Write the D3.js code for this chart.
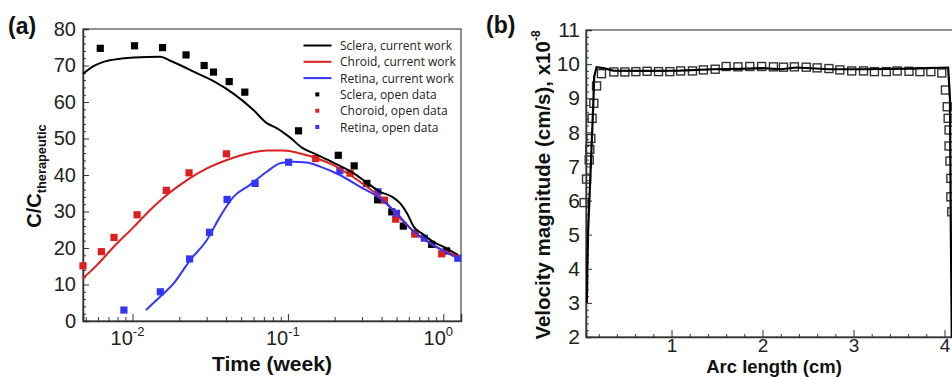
<!DOCTYPE html>
<html><head><meta charset="utf-8">
<script src="https://cdn.jsdelivr.net/npm/d3@7"></script>
<style>
body{margin:0;background:#fff;}
svg{display:block;font-family:"Liberation Sans",Arial,sans-serif;}
</style></head><body>
<svg id="c" width="952" height="377"></svg>
<script>
// ---------- Panel (a) data ----------
const scleraLineT = [0.0048,0.0056,0.0065,0.0085,0.0102,0.0151,0.0175,0.0205,0.0247,0.0332,0.0446,0.06,0.0731,0.0852,0.103,0.123,0.153,0.196,0.264,0.322,0.392,0.466,0.529,0.584,0.646,0.727,0.862,1.05,1.24];
const scleraLineV = [67.7,69.8,71.0,71.9,72.2,72.4,71.3,70.0,68.3,65.7,62.3,57.8,54.2,52.8,50.3,47.5,45.6,43.4,40.5,37.9,35.4,34.1,32.2,29.5,25.8,24.0,21.7,19.9,18.1];
const choroidLineT = [0.0048,0.0059,0.0076,0.0102,0.013,0.0166,0.0224,0.0301,0.0404,0.0544,0.0731,0.0936,0.12,0.153,0.196,0.251,0.322,0.411,0.529,0.676,0.862,1.24];
const choroidLineV = [11.7,15.3,20.4,25.8,30.4,34.5,38.6,41.8,44.1,45.8,46.7,46.7,45.9,44.6,42.7,40.0,36.8,33.2,28.1,23.8,20.8,17.7];
const retinaLineT = [0.0122,0.0151,0.0184,0.0235,0.0301,0.0366,0.0446,0.057,0.0731,0.0892,0.108,0.132,0.161,0.216,0.29,0.392,0.5,0.646,0.862,1.24];
const retinaLineV = [3.0,6.7,10.3,16.7,22.2,28.6,34.0,37.3,40.9,43.2,43.6,43.4,42.3,40.0,36.8,33.6,29.5,24.5,20.8,17.2];

const scleraPtsT = [0.0062,0.0103,0.0156,0.0221,0.0289,0.0332,0.0419,0.0528,0.117,0.211,0.267,0.322,0.378,0.466,0.553,0.658,0.842,1.05];
const scleraPtsV = [74.7,75.4,74.9,72.9,70.0,68.2,65.6,62.7,52.1,45.4,42.5,37.7,33.2,29.9,26.0,24.0,21.0,19.2];
const choroidPtsT = [0.0048,0.0063,0.0076,0.0107,0.0165,0.0231,0.0402,0.151,0.251,0.418,0.494,0.658,0.977];
const choroidPtsV = [15.1,19.0,22.9,29.1,35.8,40.6,45.8,44.5,40.5,33.1,27.9,23.8,18.4];
const retinaPtsT = [0.0088,0.0151,0.0233,0.0313,0.0406,0.0615,0.101,0.216,0.38,0.50,0.755,1.24];
const retinaPtsV = [3.0,8.0,17.0,24.3,33.3,37.7,43.5,41.2,35.4,29.5,22.7,17.2];

const yTicksA = [0,10,20,30,40,50,60,70,80];
const xTicksA = [0.01,0.1,1];
const xTickExpA = ["-2","-1","0"];
const legendLabels = ["Sclera, current work","Chroid, current work","Retina, current work","Sclera, open data","Choroid, open data","Retina, open data"];

// ---------- Panel (b) data ----------
const arcLine = [0.07,0.075,0.083,0.102,0.12,0.139,0.15,0.176,0.25,0.36,0.7,1.09,1.46,1.75,2.0,2.2,2.37,2.74,3.1,3.65,4.04,4.06,4.07,4.08];
const velLine = [3.0,4.0,5.1,6.3,7.5,8.75,9.63,9.91,9.88,9.81,9.80,9.81,9.85,9.86,9.88,9.85,9.90,9.85,9.85,9.87,9.90,9.0,5.0,2.0];
const arcPts = [0.04,0.066,0.095,0.102,0.113,0.127,0.146,0.176,0.23,0.366,0.487,0.608,0.732,0.857,0.981,1.10,1.23,1.35,1.48,1.60,1.73,1.86,1.99,2.12,2.23,2.35,2.48,2.60,2.73,2.85,2.98,3.11,3.23,3.36,3.48,3.61,3.73,3.85,3.97,4.01,4.03,4.04,4.05,4.05,4.06,4.07,4.07,4.08];
const velPts = [5.94,6.63,7.19,7.50,7.82,8.41,8.85,9.36,9.72,9.77,9.77,9.78,9.79,9.78,9.78,9.80,9.80,9.83,9.85,9.93,9.92,9.93,9.93,9.92,9.91,9.92,9.91,9.89,9.87,9.83,9.80,9.80,9.78,9.78,9.80,9.79,9.78,9.78,9.74,9.24,8.75,8.41,8.07,7.60,7.16,6.65,6.11,5.67];
const yTicksB = [2,3,4,5,6,7,8,9,10,11];
const xTicksB = [1,2,3,4];

const colors = {sclera:"#000000", choroid:"#dd1f1f", retina:"#3535f5"};
const svg = d3.select("#c");
const axisCol = "#333";

// ================= Panel (a) =================
const xA = d3.scaleLog().domain([0.0048,1.3]).range([83,461]);
const yA = d3.scaleLinear().domain([0,80]).range([321,29]);
const gA = svg.append("g");

gA.append("rect").attr("x",xA.range()[0]).attr("y",yA.range()[1])
  .attr("width",xA.range()[1]-xA.range()[0]).attr("height",yA.range()[0]-yA.range()[1])
  .attr("fill","none").attr("stroke","#555").attr("stroke-width",1.3);

const yMinorA = d3.range(0,81,2).filter(v=>v%10!==0);
gA.append("g").attr("transform",`translate(${xA.range()[0]},0)`)
  .call(d3.axisLeft(yA).tickValues(yMinorA).tickSize(-3).tickFormat(""))
  .call(g=>g.select(".domain").remove())
  .selectAll("line").attr("stroke",axisCol);
const yAxA = gA.append("g").attr("transform",`translate(${xA.range()[0]},0)`)
  .call(d3.axisLeft(yA).tickValues(yTicksA).tickSize(-6).tickPadding(7).tickFormat(d3.format("d")));
yAxA.select(".domain").attr("stroke",axisCol).attr("stroke-width",1.5);
yAxA.selectAll("line").attr("stroke",axisCol);
yAxA.selectAll("text").attr("font-size",20).attr("fill","#222").attr("font-family","Liberation Sans, Arial");

const xMinorA = [];
[0.001,0.01,0.1,1].forEach(d=>{for(let k=2;k<=9;k++){const v=d*k; if(v>=0.0048 && v<=1.3) xMinorA.push(v);}});
gA.append("g").attr("transform",`translate(0,${yA.range()[0]})`)
  .call(d3.axisBottom(xA).tickValues(xMinorA).tickSize(-4).tickFormat(""))
  .call(g=>g.select(".domain").remove())
  .selectAll("line").attr("stroke",axisCol);
const xAxA = gA.append("g").attr("transform",`translate(0,${yA.range()[0]})`)
  .call(d3.axisBottom(xA).tickValues(xTicksA).tickSize(-7).tickFormat(""));
xAxA.select(".domain").attr("stroke",axisCol).attr("stroke-width",1.5);
xAxA.selectAll("line").attr("stroke",axisCol);
xTicksA.forEach((v,i)=>{
  const t = gA.append("text").attr("x",xA(v)-5).attr("y",345)
    .attr("text-anchor","middle").attr("font-size",20).attr("fill","#222");
  t.append("tspan").text("10");
  t.append("tspan").attr("font-size",13).attr("dy",-9).text(xTickExpA[i]);
});

gA.append("text").attr("x",272).attr("y",371).attr("text-anchor","middle")
  .attr("font-size",21).attr("font-weight","bold").attr("fill","#111").text("Time (week)");
const ylab = gA.append("text").attr("transform","translate(41,176) rotate(-90)")
  .attr("text-anchor","middle").attr("font-weight","bold").attr("fill","#111");
ylab.append("tspan").attr("font-size",20).text("C/C");
ylab.append("tspan").attr("font-size",12.8).attr("dy",5).text("therapeutic");
gA.append("text").attr("x",8).attr("y",34).attr("font-size",23).attr("font-weight","bold").attr("fill","#111").text("(a)");

const lineA = d3.line().x(d=>xA(d[0])).y(d=>yA(d[1])).curve(d3.curveMonotoneX);
const seriesLines = [
  [scleraLineT,scleraLineV,colors.sclera],
  [choroidLineT,choroidLineV,colors.choroid],
  [retinaLineT,retinaLineV,colors.retina]];
const seriesPts = [
  [scleraPtsT,scleraPtsV,colors.sclera],
  [choroidPtsT,choroidPtsV,colors.choroid],
  [retinaPtsT,retinaPtsV,colors.retina]];
seriesPts.forEach(([T,V,c])=>{
  gA.append("g").selectAll("rect").data(T.map((t,i)=>[t,V[i]])).join("rect")
    .attr("x",d=>xA(d[0])-3.6).attr("y",d=>yA(d[1])-3.6)
    .attr("width",7.2).attr("height",7.2).attr("fill",c);
});
seriesLines.forEach(([T,V,c])=>{
  gA.append("path").datum(T.map((t,i)=>[t,V[i]])).attr("d",lineA)
    .attr("fill","none").attr("stroke",c).attr("stroke-width",2);
});

const legCols = [colors.sclera,colors.choroid,colors.retina,colors.sclera,colors.choroid,colors.retina];
const leg = gA.append("g");
legendLabels.forEach((lab,i)=>{
  const y = 45.5 + i*16.3;
  if(i<3){
    leg.append("line").attr("x1",303.5).attr("x2",331.5).attr("y1",y).attr("y2",y)
      .attr("stroke",legCols[i]).attr("stroke-width",2);
  } else {
    leg.append("rect").attr("x",317.3-2).attr("y",y-2).attr("width",4).attr("height",4).attr("fill",legCols[i]);
  }
  leg.append("text").attr("x",340).attr("y",y).attr("dominant-baseline","central")
    .attr("font-family","Open Sans, sans-serif").attr("font-size",12).attr("fill","#222").text(lab);
});

// ================= Panel (b) =================
const xB = d3.scaleLinear().domain([0.06,4.3]).range([586,971.8]);
const yB = d3.scaleLinear().domain([2,11]).range([337,30]);
const gB = svg.append("g");
gB.append("rect").attr("x",xB.range()[0]).attr("y",yB.range()[1])
  .attr("width",xB.range()[1]-xB.range()[0]).attr("height",yB.range()[0]-yB.range()[1])
  .attr("fill","none").attr("stroke","#555").attr("stroke-width",1.3);

const yMinorB = d3.range(20,111,2).map(v=>v/10).filter(v=>Math.abs(v-Math.round(v))>1e-6);
gB.append("g").attr("transform",`translate(${xB.range()[0]},0)`)
  .call(d3.axisLeft(yB).tickValues(yMinorB).tickSize(-3).tickFormat(""))
  .call(g=>g.select(".domain").remove()).selectAll("line").attr("stroke",axisCol);
const yAxB = gB.append("g").attr("transform",`translate(${xB.range()[0]},0)`)
  .call(d3.axisLeft(yB).tickValues(yTicksB).tickSize(-6).tickPadding(6).tickFormat(d3.format("d")));
yAxB.select(".domain").attr("stroke",axisCol).attr("stroke-width",1.5);
yAxB.selectAll("line").attr("stroke",axisCol);
yAxB.selectAll("text").attr("font-size",21).attr("fill","#222").attr("font-family","Liberation Sans, Arial");

const xMinorB = d3.range(2,43,2).map(v=>v/10).filter(v=>Math.abs(v-Math.round(v))>1e-6);
gB.append("g").attr("transform",`translate(0,${yB.range()[0]})`)
  .call(d3.axisBottom(xB).tickValues(xMinorB).tickSize(-3).tickFormat(""))
  .call(g=>g.select(".domain").remove()).selectAll("line").attr("stroke",axisCol);
const xAxB = gB.append("g").attr("transform",`translate(0,${yB.range()[0]})`)
  .call(d3.axisBottom(xB).tickValues(xTicksB).tickSize(-7).tickPadding(1.5).tickFormat(d3.format("d")));
xAxB.select(".domain").attr("stroke",axisCol).attr("stroke-width",1.5);
xAxB.selectAll("line").attr("stroke",axisCol);
xAxB.selectAll("text").attr("font-size",19).attr("fill","#222").attr("font-family","Liberation Sans, Arial");

gB.append("text").attr("x",774).attr("y",373).attr("text-anchor","middle")
  .attr("font-size",18.5).attr("font-weight","bold").attr("fill","#111").text("Arc length (cm)");
const ylabB = gB.append("text").attr("transform","translate(550,185) rotate(-90)")
  .attr("text-anchor","middle").attr("font-weight","bold").attr("fill","#111").attr("font-size",20.5);
ylabB.append("tspan").text("Velocity magnitude (cm/s), x10");
ylabB.append("tspan").attr("font-size",12).attr("dy",-10).text("-8");
gB.append("text").attr("x",486).attr("y",33).attr("font-size",23).attr("font-weight","bold").attr("fill","#111").text("(b)");

gB.append("g").selectAll("rect").data(arcPts.map((a,i)=>[a,velPts[i]])).join("rect")
  .attr("x",d=>xB(d[0])-4).attr("y",d=>yB(d[1])-4).attr("width",8).attr("height",8)
  .attr("fill","none").attr("stroke","#333").attr("stroke-width",1.4);
const lineB = d3.line().x(d=>xB(d[0])).y(d=>yB(d[1]));
gB.append("path").datum(arcLine.map((a,i)=>[a,velLine[i]])).attr("d",lineB)
  .attr("fill","none").attr("stroke","#000").attr("stroke-width",2.2);
</script></body></html>
